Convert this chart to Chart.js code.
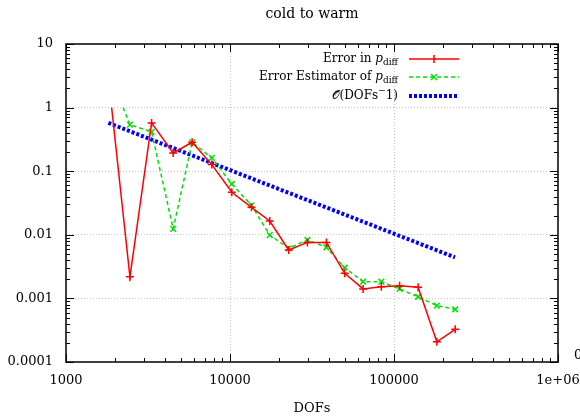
<!DOCTYPE html>
<html>
<head>
<meta charset="utf-8">
<script src="https://cdn.jsdelivr.net/npm/chart.js@4/dist/chart.umd.min.js"></script>
<style>
  html, body { margin: 0; padding: 0; background: #fff; }
</style>
</head>
<body>
<canvas id="chart" width="580" height="417"></canvas>
<script>
// values (log-log)
const errDofs = [1898, 2454, 3326, 4504, 5878, 7749, 10256, 13521, 17474, 22808, 29648, 38697, 50016, 64826, 83694, 108170, 140250, 182500, 236200];
const errValues = [1.0, 0.00218, 0.575, 0.194, 0.285, 0.127, 0.0466, 0.027, 0.0165, 0.00577, 0.0076, 0.0076, 0.00248, 0.00141, 0.00153, 0.00158, 0.0015, 0.000208, 0.000327];

const estDofs = [2230, 2454, 3326, 4504, 5878, 7749, 10256, 13521, 17474, 22808, 29648, 38697, 50016, 64826, 83694, 108170, 140250, 182500, 236200];
const estValues = [1.0, 0.54, 0.415, 0.0124, 0.285, 0.162, 0.063, 0.029, 0.0099, 0.00613, 0.0083, 0.00636, 0.00304, 0.00183, 0.00183, 0.00141, 0.00106, 0.00077, 0.000674];

const rateDofs = [1812, 235500];
const rateValues = [0.575, 0.00442];

const xTicks = [1000, 10000, 100000, 1000000];
const xTickLabels = ['1000', '10000', '100000', '1e+06'];
const yTicks = [0.0001, 0.001, 0.01, 0.1, 1, 10];
const yTickLabels = ['0.0001', '0.001', '0.01', '0.1', '1', '10'];

const FONT = '"DejaVu Serif", "Liberation Serif", serif';
const RED = '#ff0000';
const GREEN = '#00e000';
const BLUE = '#0000ff';

const toPoints = (xs, ys) => xs.map((x, i) => ({ x: x, y: ys[i] }));
// first point of each measured series has no marker in the picture
const hideFirst = r => ctx => ctx.dataIndex === 0 ? 0 : r;

// draws pieces of text (normal / italic / sub / sup), right aligned at x
function richText(ctx, parts, xRight, y) {
    let total = 0;
    parts.forEach(p => {
        ctx.font = p.font;
        p.w = ctx.measureText(p.t).width;
        total += p.w;
    });
    let x = xRight - total;
    parts.forEach(p => {
        ctx.font = p.font;
        ctx.fillText(p.t, x, y + (p.dy || 0));
        x += p.w;
    });
}

const framePlugin = {
    id: 'frame',
    afterDatasetsDraw(chart) {
        const ctx = chart.ctx;
        const xs = chart.scales.x;
        const ys = chart.scales.y;
        const a = chart.chartArea;
        ctx.save();
        ctx.strokeStyle = '#000';
        ctx.lineWidth = 1;
        ctx.setLineDash([]);

        // inward ticks, mirrored on all four sides
        ctx.beginPath();
        for (let d = 1000; d <= 1e6; d *= 10) {
            for (let m = 1; m <= (d === 1e6 ? 1 : 9); m++) {
                const px = Math.round(xs.getPixelForValue(m * d)) + 0.5;
                const len = m === 1 ? 8 : 4;
                ctx.moveTo(px, a.bottom); ctx.lineTo(px, a.bottom - len);
                ctx.moveTo(px, a.top); ctx.lineTo(px, a.top + len);
            }
        }
        for (let d = 0.0001; d <= 10.0001; d *= 10) {
            for (let m = 1; m <= (d > 5 ? 1 : 9); m++) {
                const py = Math.round(ys.getPixelForValue(m * d)) + 0.5;
                const len = m === 1 ? 8 : 4;
                ctx.moveTo(a.left, py); ctx.lineTo(a.left + len, py);
                ctx.moveTo(a.right, py); ctx.lineTo(a.right - len, py);
            }
        }
        ctx.stroke();

        ctx.lineWidth = 1.5;
        ctx.strokeRect(a.left, a.top, a.right - a.left, a.bottom - a.top);

        // title, centred over the plot area
        ctx.fillStyle = '#000';
        ctx.textBaseline = 'middle';
        ctx.textAlign = 'center';
        ctx.font = '14px ' + FONT;
        ctx.fillText('cold to warm', (a.left + a.right) / 2, 14);

        // key (text right aligned, sample on the right)
        const normal = '12px ' + FONT;
        const italic = 'italic 12px ' + FONT;
        const small = '9px ' + FONT;
        ctx.textAlign = 'left';
        const textRight = 398, s0 = 409, s1 = 459, sm = 434;
        const rows = [59, 77, 96];

        richText(ctx, [
            { t: 'Error in ', font: normal },
            { t: 'p', font: italic },
            { t: 'diff', font: small, dy: 4 }
        ], textRight, rows[0]);
        richText(ctx, [
            { t: 'Error Estimator of ', font: normal },
            { t: 'p', font: italic },
            { t: 'diff', font: small, dy: 4 }
        ], textRight, rows[1]);
        richText(ctx, [
            { t: '\u{1D4AA}', font: normal },
            { t: '(DOFs', font: normal },
            { t: '\u2212', font: small, dy: -5 },
            { t: '1)', font: normal }
        ], textRight, rows[2]);

        ctx.lineWidth = 1.5;
        ctx.strokeStyle = RED;
        ctx.beginPath();
        ctx.moveTo(s0, rows[0]); ctx.lineTo(s1, rows[0]);
        ctx.moveTo(sm, rows[0] - 4); ctx.lineTo(sm, rows[0] + 4);
        ctx.stroke();

        ctx.strokeStyle = GREEN;
        ctx.setLineDash([4, 3]);
        ctx.beginPath();
        ctx.moveTo(s0, rows[1]); ctx.lineTo(s1, rows[1]);
        ctx.stroke();
        ctx.setLineDash([]);
        ctx.beginPath();
        ctx.moveTo(sm - 3, rows[1] - 3); ctx.lineTo(sm + 3, rows[1] + 3);
        ctx.moveTo(sm - 3, rows[1] + 3); ctx.lineTo(sm + 3, rows[1] - 3);
        ctx.stroke();

        ctx.strokeStyle = BLUE;
        ctx.lineWidth = 4;
        ctx.setLineDash([3, 2]);
        ctx.beginPath();
        ctx.moveTo(s0, rows[2]); ctx.lineTo(s1, rows[2]);
        ctx.stroke();

        // label cut by the right edge of the picture
        ctx.font = '13px ' + FONT;
        ctx.fillStyle = '#000';
        ctx.fillText('0', 574, 356);
        ctx.restore();
    }
};

const majorGrid = (ends) => ctx => {
    const v = ctx.tick && ctx.tick.value;
    return ends.includes(v) ? 'rgba(0,0,0,0)' : '#c4c4c4';
};

new Chart(document.getElementById('chart').getContext('2d'), {
    type: 'scatter',
    data: {
        datasets: [
            {
                label: 'Error in p_diff',
                data: toPoints(errDofs, errValues),
                showLine: true,
                borderColor: RED,
                backgroundColor: RED,
                borderWidth: 1.5,
                pointStyle: 'cross',
                pointRadius: hideFirst(4),
                pointBorderWidth: 1.5,
            },
            {
                label: 'Error Estimator of p_diff',
                data: toPoints(estDofs, estValues),
                showLine: true,
                borderColor: GREEN,
                backgroundColor: GREEN,
                borderWidth: 1.5,
                borderDash: [4, 3],
                pointStyle: 'crossRot',
                pointRadius: hideFirst(4),
                pointBorderWidth: 1.5,
            },
            {
                label: 'O(DOFs^-1)',
                data: toPoints(rateDofs, rateValues),
                showLine: true,
                borderColor: BLUE,
                borderWidth: 4,
                borderDash: [3, 2],
                borderCapStyle: 'butt',
                pointRadius: 0,
            }
        ]
    },
    options: {
        responsive: false,
        animation: false,
        devicePixelRatio: 1,
        layout: { padding: { left: 0, right: 22, top: 44, bottom: 0 } },
        plugins: {
            legend: { display: false },
            tooltip: { enabled: false },
            title: { display: false }
        },
        scales: {
            x: {
                type: 'logarithmic',
                min: 1000,
                max: 1000000,
                afterBuildTicks: scale => { scale.ticks = xTicks.map(v => ({ value: v })); },
                afterFit: scale => {
                    scale.height = 55;
                    scale.paddingLeft = 0;
                    scale.paddingRight = 0;
                },
                ticks: {
                    color: '#000',
                    font: { family: FONT, size: 13 },
                    padding: 11,
                    maxRotation: 0,
                    autoSkip: false,
                    callback: (v) => xTickLabels[xTicks.indexOf(v)]
                },
                grid: { color: majorGrid([1000, 1000000]), drawTicks: false, lineWidth: 1 },
                border: { display: false, dash: [1, 2] },
                title: {
                    display: true,
                    text: 'DOFs',
                    color: '#000',
                    font: { family: FONT, size: 13 },
                    padding: { top: 0, bottom: 1 }
                }
            },
            y: {
                type: 'logarithmic',
                min: 0.0001,
                max: 10,
                afterBuildTicks: scale => { scale.ticks = yTicks.map(v => ({ value: v })); },
                afterFit: scale => {
                    scale.width = 66;
                    scale.paddingTop = 0;
                    scale.paddingBottom = 0;
                },
                ticks: {
                    color: '#000',
                    font: { family: FONT, size: 13 },
                    padding: 13,
                    autoSkip: false,
                    callback: (v) => {
                        const i = yTicks.findIndex(t => Math.abs(t - v) / t < 1e-6);
                        return i >= 0 ? yTickLabels[i] : '';
                    }
                },
                grid: { color: majorGrid([0.0001, 10]), drawTicks: false, lineWidth: 1 },
                border: { display: false, dash: [1, 2] }
            }
        }
    },
    plugins: [framePlugin]
});
</script>
</body>
</html>
